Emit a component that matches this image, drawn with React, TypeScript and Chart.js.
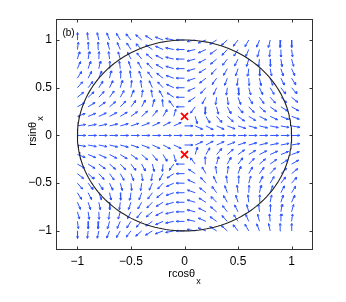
import React, { useEffect, useRef } from 'react';
import { Chart, registerables } from 'chart.js';

Chart.register(...registerables);

// grid of arrow origins
const xGrid = [-1, -0.9, -0.8, -0.7, -0.6, -0.5, -0.4, -0.3, -0.2, -0.1, 0, 0.1, 0.2, 0.3, 0.4, 0.5, 0.6, 0.7, 0.8, 0.9, 1];
const yGrid = [1, 0.9, 0.8, 0.7, 0.6, 0.5, 0.4, 0.3, 0.2, 0.1, 0, -0.1, -0.2, -0.3, -0.4, -0.5, -0.6, -0.7, -0.8, -0.9, -1];

// arrow direction (degrees) per row (top to bottom), columns follow xGrid; null = no arrow
const row_p10 = [89, 95, 101, 109, 117, 125, 135, 145, 157, 168, 180, -168, -157, -145, -135, -125, -117, -109, -101, -95, -89];
const row_p09 = [83, 89, 95, 103, 111, 120, 130, 142, 154, 167, 180, -167, -154, -142, -130, -120, -111, -103, -95, -89, -83];
const row_p08 = [76, 82, 88, 96, 104, 114, 125, 137, 150, 165, 180, -165, -150, -137, -125, -114, -104, -96, -88, -82, -76];
const row_p07 = [69, 74, 80, 88, 96, 106, 117, 131, 146, 162, 180, -162, -146, -131, -117, -106, -96, -88, -80, -74, -69];
const row_p06 = [61, 66, 72, 79, 87, 97, 108, 123, 139, 159, 180, -159, -139, -123, -108, -97, -87, -79, -72, -66, -61];
const row_p05 = [52, 56, 62, 68, 76, 85, 97, 112, 130, 153, 180, -153, -130, -112, -97, -85, -76, -68, -62, -56, -52];
const row_p04 = [42, 46, 51, 57, 63, 72, 83, 97, 117, 144, 180, -144, -117, -97, -83, -72, -63, -57, -51, -46, -42];
const row_p03 = [32, 35, 39, 44, 49, 56, 65, 78, 95, 124, 180, -124, -95, -78, -65, -56, -49, -44, -39, -35, -32];
const row_p02 = [22, 24, 27, 30, 34, 39, 45, 53, 63, 76, null, -76, -63, -53, -45, -39, -34, -30, -27, -24, -22];
const row_p01 = [11, 12, 13, 15, 17, 20, 23, 27, 30, 27, 0, -27, -30, -27, -23, -20, -17, -15, -13, -12, -11];
const row_000 = [0, 0, 0, 0, 0, 0, 0, 0, 0, 0, 0, 0, 0, 0, 0, 0, 0, 0, 0, 0, 0];
const row_m01 = [-11, -12, -13, -15, -17, -20, -23, -27, -30, -27, 0, 27, 30, 27, 23, 20, 17, 15, 13, 12, 11];
const row_m02 = [-22, -24, -27, -30, -34, -39, -45, -53, -63, -76, null, 76, 63, 53, 45, 39, 34, 30, 27, 24, 22];
const row_m03 = [-32, -35, -39, -44, -49, -56, -65, -78, -95, -124, 180, 124, 95, 78, 65, 56, 49, 44, 39, 35, 32];
const row_m04 = [-42, -46, -51, -57, -63, -72, -83, -97, -117, -144, 180, 144, 117, 97, 83, 72, 63, 57, 51, 46, 42];
const row_m05 = [-52, -56, -62, -68, -76, -85, -97, -112, -130, -153, 180, 153, 130, 112, 97, 85, 76, 68, 62, 56, 52];
const row_m06 = [-61, -66, -72, -79, -87, -97, -108, -123, -139, -159, 180, 159, 139, 123, 108, 97, 87, 79, 72, 66, 61];
const row_m07 = [-69, -74, -80, -88, -96, -106, -117, -131, -146, -162, 180, 162, 146, 131, 117, 106, 96, 88, 80, 74, 69];
const row_m08 = [-76, -82, -88, -96, -104, -114, -125, -137, -150, -165, 180, 165, 150, 137, 125, 114, 104, 96, 88, 82, 76];
const row_m09 = [-83, -89, -95, -103, -111, -120, -130, -142, -154, -167, 180, 167, 154, 142, 130, 120, 111, 103, 95, 89, 83];
const row_m10 = [-89, -95, -101, -109, -117, -125, -135, -145, -157, -168, 180, 168, 157, 145, 135, 125, 117, 109, 101, 95, 89];

const angleRows = [
  row_p10, row_p09, row_p08, row_p07, row_p06, row_p05, row_p04, row_p03, row_p02, row_p01,
  row_000,
  row_m01, row_m02, row_m03, row_m04, row_m05, row_m06, row_m07, row_m08, row_m09, row_m10,
];

// fixed points (red crosses)
const fixedX = [0, 0];
const fixedY = [0.2, -0.2];

const circleRadius = 1;
const xTickValues = [-1, -0.5, 0, 0.5, 1];
const yTickValues = [-1, -0.5, 0, 0.5, 1];
const xLabelMain = 'rcosθ';
const yLabelMain = 'rsinθ';
const labelSub = 'x';
const panelTag = '(b)';

const FONT = "'Liberation Sans', Arial, Helvetica, sans-serif";

function fmt(v: number): string {
  return v < 0 ? '\u2212' + String(Math.abs(v)) : String(v);
}

function buildArrows() {
  const L = 0.078;
  const head = 0.3 * L;
  const spread = (24 * Math.PI) / 180;
  const pts: { x: number; y: number }[] = [];
  const gap = { x: NaN, y: NaN };
  angleRows.forEach((row, j) => {
    row.forEach((deg, i) => {
      if (deg === null || deg === undefined) return;
      const x0 = xGrid[i];
      const y0 = yGrid[j];
      const t = (deg * Math.PI) / 180;
      const x1 = x0 + L * Math.cos(t);
      const y1 = y0 + L * Math.sin(t);
      const b1 = t + Math.PI - spread;
      const b2 = t + Math.PI + spread;
      pts.push({ x: x0, y: y0 }, { x: x1, y: y1 }, { ...gap });
      pts.push(
        { x: x1 + head * Math.cos(b1), y: y1 + head * Math.sin(b1) },
        { x: x1, y: y1 },
        { x: x1 + head * Math.cos(b2), y: y1 + head * Math.sin(b2) },
        { ...gap }
      );
    });
  });
  return pts;
}

function buildCircle() {
  const pts: { x: number; y: number }[] = [];
  for (let a = 0; a <= 360; a += 2) {
    const t = (a * Math.PI) / 180;
    pts.push({ x: circleRadius * Math.cos(t), y: circleRadius * Math.sin(t) });
  }
  return pts;
}

const axesPlugin = {
  id: 'matlabAxes',
  afterDraw(chart: any) {
    const { ctx, chartArea: a, scales } = chart;
    const xs = scales.x;
    const ys = scales.y;
    ctx.save();
    ctx.strokeStyle = '#333';
    ctx.lineWidth = 1;
    const l = Math.round(a.left) + 0.5;
    const r = Math.round(a.right) - 0.5;
    const t = Math.round(a.top) + 0.5;
    const b = Math.round(a.bottom) - 0.5;
    ctx.strokeRect(l, t, r - l, b - t);
    const tl = 3;
    ctx.beginPath();
    xTickValues.forEach((v) => {
      const px = Math.round(xs.getPixelForValue(v)) + 0.5;
      ctx.moveTo(px, b);
      ctx.lineTo(px, b - tl);
      ctx.moveTo(px, t);
      ctx.lineTo(px, t + tl);
    });
    yTickValues.forEach((v) => {
      const py = Math.round(ys.getPixelForValue(v)) + 0.5;
      ctx.moveTo(l, py);
      ctx.lineTo(l + tl, py);
      ctx.moveTo(r, py);
      ctx.lineTo(r - tl, py);
    });
    ctx.stroke();

    // axis titles with subscript
    ctx.fillStyle = '#000';
    const mainFont = `11px ${FONT}`;
    const subFont = `9px ${FONT}`;
    ctx.font = mainFont;
    const wx = ctx.measureText(xLabelMain).width;
    ctx.font = subFont;
    const ws = ctx.measureText(labelSub).width;
    const cx = (a.left + a.right) / 2;
    const startX = cx - (wx + ws + 1) / 2;
    ctx.textBaseline = 'alphabetic';
    ctx.textAlign = 'left';
    ctx.font = mainFont;
    ctx.fillText(xLabelMain, startX, 277);
    ctx.font = subFont;
    ctx.fillText(labelSub, startX + wx + 1, 284);

    ctx.save();
    ctx.translate(36, 131);
    ctx.rotate(-Math.PI / 2);
    ctx.font = mainFont;
    const wy = ctx.measureText(yLabelMain).width;
    const sy = -(wy + ws + 1) / 2;
    ctx.fillText(yLabelMain, sy, 0);
    ctx.font = subFont;
    ctx.fillText(labelSub, sy + wy + 1, 7);
    ctx.restore();

    ctx.font = `10px ${FONT}`;
    ctx.textAlign = 'center';
    ctx.textBaseline = 'middle';
    ctx.fillText(panelTag, 68.5, 33);
    ctx.restore();
  },
};

export default function App() {
  const ref = useRef<HTMLCanvasElement | null>(null);
  useEffect(() => {
    if (!ref.current) return;
    const chart = new Chart(ref.current, {
      type: 'scatter',
      data: {
        datasets: [
          {
            label: 'fixed points',
            data: fixedX.map((x, i) => ({ x, y: fixedY[i] })),
            pointStyle: 'crossRot',
            pointRadius: 5,
            borderColor: '#ff0000',
            borderWidth: 1.8,
            showLine: false,
          } as any,
          {
            label: 'circle',
            data: buildCircle(),
            showLine: true,
            pointRadius: 0,
            borderColor: '#222',
            borderWidth: 1.1,
            fill: false,
            tension: 0,
          } as any,
          {
            label: 'field',
            data: buildArrows(),
            showLine: true,
            spanGaps: false,
            pointRadius: 0,
            borderColor: 'rgb(45,85,255)',
            borderWidth: 1,
            fill: false,
            tension: 0,
          } as any,
        ],
      },
      options: {
        responsive: false,
        animation: false,
        events: [],
        layout: { padding: { left: 0, top: 19, right: 33, bottom: 0 } },
        plugins: { legend: { display: false }, tooltip: { enabled: false } },
        scales: {
          x: {
            type: 'linear',
            min: -1.2,
            max: 1.2,
            afterBuildTicks: (s: any) => {
              s.ticks = xTickValues.map((v) => ({ value: v }));
            },
            afterFit: (s: any) => {
              s.height = 52;
            },
            grid: { display: false, drawTicks: false },
            border: { display: false },
            ticks: {
              padding: 4,
              color: '#000',
              font: { size: 12, family: FONT },
              maxRotation: 0,
              callback: (v: any) => fmt(Number(v)),
            },
          },
          y: {
            type: 'linear',
            min: -1.2,
            max: 1.22,
            afterBuildTicks: (s: any) => {
              s.ticks = yTickValues.map((v) => ({ value: v }));
            },
            afterFit: (s: any) => {
              s.width = 56;
            },
            grid: { display: false, drawTicks: false },
            border: { display: false },
            ticks: {
              padding: 4,
              color: '#000',
              font: { size: 12, family: FONT },
              callback: (v: any) => fmt(Number(v)),
            },
          },
        },
      },
      plugins: [axesPlugin],
    });
    return () => chart.destroy();
  }, []);
  return (
    <div style={{ position: 'absolute', left: 0, top: 0, width: 346, height: 302, background: '#fff' }}>
      <canvas ref={ref} width={346} height={302} />
    </div>
  );
}
